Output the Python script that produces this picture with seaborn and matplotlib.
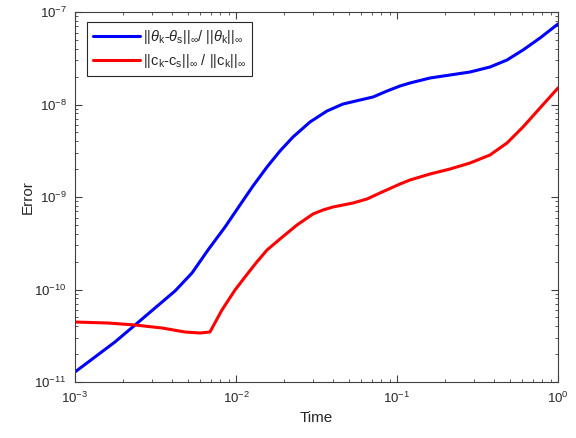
import numpy as np
import pandas as pd
import matplotlib
matplotlib.use("Agg")
import matplotlib.pyplot as plt
import seaborn as sns
from matplotlib.ticker import LogLocator, NullFormatter, FixedLocator
from matplotlib.lines import Line2D

# ---- data ----
theta_time = [0.001, 0.00133, 0.00177, 0.00236, 0.00314, 0.00418, 0.00533, 0.00670,
              0.00855, 0.01090, 0.01275, 0.01558, 0.01876, 0.02259, 0.02881, 0.03675,
              0.04618, 0.05891, 0.07095, 0.08669, 0.1044, 0.1204, 0.1603, 0.2135,
              0.2842, 0.3782, 0.4823, 0.6062, 0.7732, 1.0]
theta_err = [1.283e-11, 1.863e-11, 2.706e-11, 4.132e-11, 6.31e-11, 9.63e-11, 1.508e-10, 2.673e-10,
             4.739e-10, 8.83e-10, 1.315e-9, 2.110e-9, 3.144e-9, 4.452e-9, 6.468e-9, 8.505e-9,
             1.012e-8, 1.118e-8, 1.205e-8, 1.399e-8, 1.585e-8, 1.708e-8, 1.934e-8, 2.084e-8,
             2.246e-8, 2.543e-8, 3.028e-8, 3.883e-8, 5.234e-8, 7.42e-8]

c_time = [0.001, 0.001603, 0.00236, 0.00347, 0.00482, 0.00598, 0.00689, 0.00818,
          0.00986, 0.01137, 0.01331, 0.01558, 0.01876, 0.02392, 0.03008, 0.03470,
          0.04003, 0.0533, 0.0651, 0.0784, 0.1044, 0.1204, 0.1603, 0.2135,
          0.2842, 0.3782, 0.4823, 0.6062, 0.7732, 1.0]
c_err = [4.452e-11, 4.343e-11, 4.132e-11, 3.836e-11, 3.471e-11, 3.386e-11, 3.471e-11, 6.003e-11,
         9.88e-11, 1.365e-10, 1.934e-10, 2.673e-10, 3.515e-10, 4.981e-10, 6.551e-10, 7.236e-10,
         7.796e-10, 8.611e-10, 9.515e-10, 1.105e-9, 1.382e-9, 1.527e-9, 1.773e-9, 2.007e-9,
         2.331e-9, 2.846e-9, 3.836e-9, 5.711e-9, 9.167e-9, 1.508e-8]

x_ticks = [1e-3, 1e-2, 1e-1, 1e0]
y_ticks = [1e-11, 1e-10, 1e-9, 1e-8, 1e-7]

label_theta = r'$||\mathit{\theta}_k$-$\mathit{\theta}_s||_\infty$/ $||\mathit{\theta}_k||_\infty$'
label_c = r'$||c_k$-$c_s||_\infty$ / $||c_k||_\infty$'
series_labels = [label_theta, label_c]
series_colors = ['#0000ff', '#ff0000']

df = pd.concat([
    pd.DataFrame({'Time': theta_time, 'Error': theta_err, 'series': label_theta}),
    pd.DataFrame({'Time': c_time, 'Error': c_err, 'series': label_c}),
], ignore_index=True)

sns.set_style('white')
plt.rcParams['font.family'] = ['Liberation Sans', 'DejaVu Sans']
plt.rcParams['mathtext.fontset'] = 'custom'
plt.rcParams['mathtext.rm'] = 'Liberation Sans'
plt.rcParams['mathtext.it'] = 'Liberation Sans:italic'
plt.rcParams['mathtext.sf'] = 'Liberation Sans'
plt.rcParams['mathtext.default'] = 'regular'

fig = plt.figure(figsize=(5.76, 4.38), dpi=100)
ax = fig.add_axes([75/576, 1-382/438, (558-75)/576, (382-12)/438])

sns.lineplot(data=df, x='Time', y='Error', hue='series', hue_order=series_labels,
             palette=series_colors, linewidth=2.2, ax=ax, legend=False, sort=False)
for ln in ax.get_lines():
    ln.set_solid_joinstyle('round')

ax.set_xscale('log')
ax.set_yscale('log')
ax.set_xlim(1e-3, 1)
ax.set_ylim(1e-11, 1e-7)

axcol = '#404040'
txtcol = '#262626'
for s in ax.spines.values():
    s.set_visible(True)
    s.set_color(axcol)
    s.set_linewidth(0.8)

ax.xaxis.set_major_locator(FixedLocator(x_ticks))
ax.yaxis.set_major_locator(FixedLocator(y_ticks))
ax.xaxis.set_minor_locator(LogLocator(base=10, subs=np.arange(2, 10), numticks=20))
ax.yaxis.set_minor_locator(LogLocator(base=10, subs=np.arange(2, 10), numticks=20))
ax.xaxis.set_minor_formatter(NullFormatter())
ax.yaxis.set_minor_formatter(NullFormatter())
ax.tick_params(which='both', direction='in', bottom=True, left=True, top=True, right=True,
               color=axcol, labelcolor=txtcol, labelsize=9.5)
ax.tick_params(which='major', length=5, width=0.8, pad=6)
ax.tick_params(which='minor', length=2.5, width=0.6)

ax.set_xlabel('Time', fontsize=11, color=txtcol, labelpad=4)
ax.set_ylabel('Error', fontsize=11, color=txtcol, labelpad=0)

handles = [Line2D([], [], color=c, lw=2.2) for c in series_colors]
leg = ax.legend(handles, series_labels, loc='upper left', bbox_to_anchor=(0.025, 0.972),
                borderaxespad=0, fontsize=10.5, handlelength=3.2, fancybox=False,
                framealpha=1, edgecolor='#262626', labelspacing=0.4, borderpad=0.4,
                handletextpad=0.25)
leg.get_frame().set_linewidth(0.8)

fig.savefig('out.png', dpi=100)
